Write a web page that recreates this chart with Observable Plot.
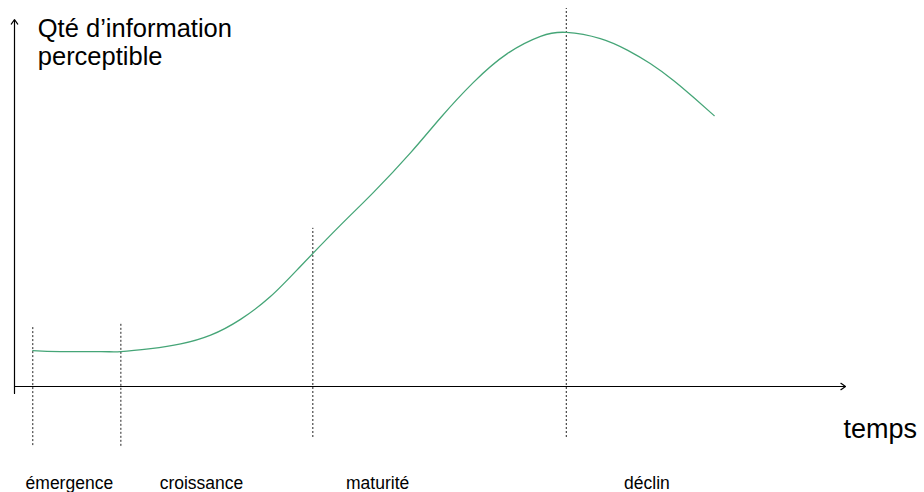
<!DOCTYPE html>
<html>
<head>
<meta charset="utf-8">
<script src="https://cdn.jsdelivr.net/npm/d3@7"></script>
<script src="https://cdn.jsdelivr.net/npm/@observablehq/plot@0.6"></script>
<style>
  html, body { margin: 0; padding: 0; background: #fff; }
  svg { display: block; }
</style>
</head>
<body>
<div id="chart"></div>
<script>
// Curve: time (0–100) vs perceptible information (0–100)
const curveT = [2.2, 5.5, 10.4, 12.8, 16.4, 20.0, 23.6, 27.2, 30.8, 34.4, 39.2, 43.2, 47.7, 51.3, 55.2, 59.3, 63.3, 66.4, 70.5, 73.8, 76.5, 79.3, 81.7, 84.2];
const curveQ = [9.8, 9.5, 9.5, 9.5, 10.3, 11.6, 14.0, 18.3, 24.5, 32.7, 43.9, 52.9, 63.8, 73.3, 82.8, 90.7, 95.4, 96.5, 94.8, 91.6, 88.0, 83.4, 78.8, 73.8];

// Phase boundaries (time) and extent of the dotted markers
const boundaryT = [2.2, 12.8, 35.9, 66.4];
const boundaryTop = [16.6, 17.2, 43.1, 103];
const boundaryBottom = [-16.1, -16.3, -13.9, -13.9];

// Phase labels
const phaseNames = ["émergence", "croissance", "maturité", "déclin"];
const phaseLabelT = [6.6, 22.5, 43.7, 76.1];

const yTitle = "Qté d’information\nperceptible";
const xTitle = "temps";

const curve = curveT.map((t, i) => ({t, q: curveQ[i]}));
const bounds = boundaryT.map((t, i) => ({t, top: boundaryTop[i], bottom: boundaryBottom[i]}));
const labels = phaseNames.map((name, i) => ({name, t: phaseLabelT[i]}));

const chart = Plot.plot({
  width: 924,
  height: 492,
  marginLeft: 14,
  marginRight: 79,
  marginTop: 19,
  marginBottom: 106,
  style: {fontFamily: "'Liberation Sans', Arial, sans-serif", background: "#fff", color: "#000"},
  x: {domain: [0, 100], axis: null},
  y: {domain: [0, 100], axis: null},
  marks: [
    Plot.ruleX(bounds, {x: "t", y1: "bottom", y2: "top", stroke: "#222", strokeWidth: 1, strokeDasharray: "2,2"}),
    Plot.arrow([{x1: 0, y1: 0, x2: 100, y2: 0}], {x1: "x1", y1: "y1", x2: "x2", y2: "y2", stroke: "#000", strokeWidth: 1.2, headLength: 7, headAngle: 70}),
    Plot.arrow([{x1: 0, y1: -1.9, x2: 0, y2: 100}], {x1: "x1", y1: "y1", x2: "x2", y2: "y2", stroke: "#000", strokeWidth: 1.2, headLength: 7, headAngle: 70}),
    Plot.line(curve, {x: "t", y: "q", curve: "natural", stroke: "#45a577", strokeWidth: 1.3}),
    Plot.text([yTitle], {x: 2.8, y: 100.5, text: d => d, textAnchor: "start", lineAnchor: "top", fontSize: 25.5, lineHeight: 1.08, fill: "#000"}),
    Plot.text([xTitle], {x: 100, y: -14, text: d => d, textAnchor: "start", lineAnchor: "bottom", fontSize: 27, dx: -2, fill: "#000"}),
    Plot.text(labels, {x: "t", y: -28, text: "name", textAnchor: "middle", lineAnchor: "bottom", fontSize: 17.5, fill: "#000"})
  ]
});
document.getElementById("chart").appendChild(chart);
</script>
</body>
</html>
